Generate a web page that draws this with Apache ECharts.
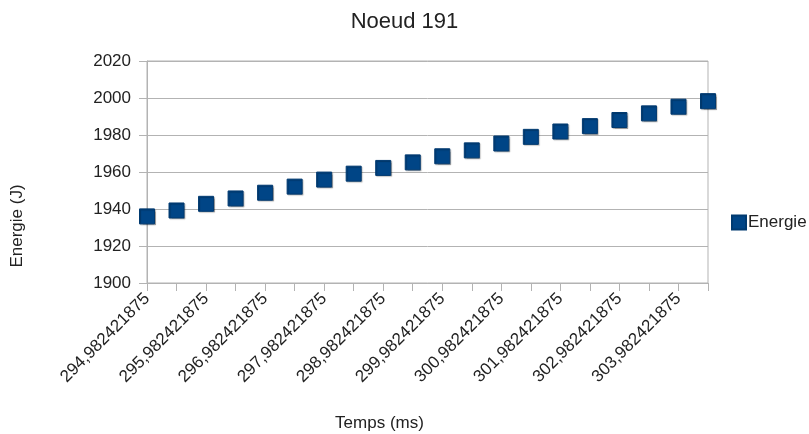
<!DOCTYPE html>
<html>
<head>
<meta charset="utf-8">
<script src="https://cdn.jsdelivr.net/npm/echarts@6/dist/echarts.min.js"></script>
<style>
html, body { margin: 0; padding: 0; background: #fff; }
#chart { width: 809px; height: 434px; }
</style>
</head>
<body>
<div id="chart"></div>
<script>
// temps (ms), one point every half ms
var temps = [
	'294,982421875', '295,482421875', '295,982421875', '296,482421875',
	'296,982421875', '297,482421875', '297,982421875', '298,482421875',
	'298,982421875', '299,482421875', '299,982421875', '300,482421875',
	'300,982421875', '301,482421875', '301,982421875', '302,482421875',
	'302,982421875', '303,482421875', '303,982421875', '304,482421875'
];
// energie (J)
var energie = [
	1936.0, 1939.2, 1942.8, 1945.7, 1948.8, 1952.1, 1955.9, 1959.1, 1962.2, 1965.2,
	1968.5, 1971.7, 1975.4, 1979.0, 1981.9, 1984.8, 1988.1, 1991.7, 1995.3, 1998.3
];
var yMin = 1900, yMax = 2020, yStep = 20;

var font = 'Liberation Sans';
var textColor = '#222';
var lineColor = '#b3b3b3';

var option = {
	animation : false,
	title : {
		text : 'Noeud 191',
		left : 'center',
		top : 6,
		textStyle : {
			fontFamily : font,
			fontSize : 22,
			fontWeight : 'normal',
			color : textColor
		}
	},
	legend : {
		data : [ 'Energie' ],
		orient : 'vertical',
		left : 726,
		top : 209,
		icon : 'rect',
		itemWidth : 14,
		itemHeight : 14,
		itemGap : 4,
		textStyle : {
			fontFamily : font,
			fontSize : 17,
			color : textColor,
			padding : [ 0, 0, 0, -3 ]
		}
	},
	grid : {
		left : 147,
		right : 101,
		top : 61,
		bottom : 151,
		outerBoundsMode : 'none',
		show : true,
		borderColor : lineColor,
		borderWidth : 1
	},
	xAxis : {
		type : 'category',
		data : temps,
		boundaryGap : false,
		name : 'Temps (ms)',
		nameLocation : 'middle',
		nameGap : 132,
		nameTextStyle : {
			fontFamily : font,
			fontSize : 17,
			color : textColor,
			padding : [ 0, 96, 0, 0 ]
		},
		axisLine : {
			lineStyle : { color : lineColor }
		},
		axisTick : {
			show : true,
			interval : 0,
			length : 8,
			lineStyle : { color : lineColor }
		},
		axisLabel : {
			interval : 1,
			rotate : 45,
			margin : 13,
			fontFamily : font,
			fontSize : 17,
			color : textColor
		},
		splitLine : { show : false }
	},
	yAxis : {
		type : 'value',
		min : yMin,
		max : yMax,
		interval : yStep,
		name : 'Energie (J)',
		nameLocation : 'middle',
		nameGap : 121,
		nameTextStyle : {
			fontFamily : font,
			fontSize : 17,
			color : textColor,
			padding : [ 0, 108, 0, 0 ]
		},
		axisLine : {
			show : true,
			lineStyle : { color : lineColor }
		},
		axisTick : {
			show : true,
			length : 8,
			lineStyle : { color : lineColor }
		},
		axisLabel : {
			margin : 16,
			fontFamily : font,
			fontSize : 17,
			color : textColor,
			formatter : function(v) {
				return String(v);
			}
		},
		splitLine : {
			show : true,
			lineStyle : { color : lineColor }
		}
	},
	series : [ {
		name : 'Energie',
		type : 'scatter',
		data : energie,
		symbol : 'rect',
		symbolSize : 15,
		itemStyle : {
			color : '#004586',
			opacity : 1,
			borderColor : '#003a70',
			borderWidth : 1,
			shadowColor : 'rgba(0,0,0,0.25)',
			shadowBlur : 1,
			shadowOffsetX : 1,
			shadowOffsetY : 1
		}
	} ]
};

var chart = echarts.init(document.getElementById('chart'));
chart.setOption(option);
</script>
</body>
</html>
